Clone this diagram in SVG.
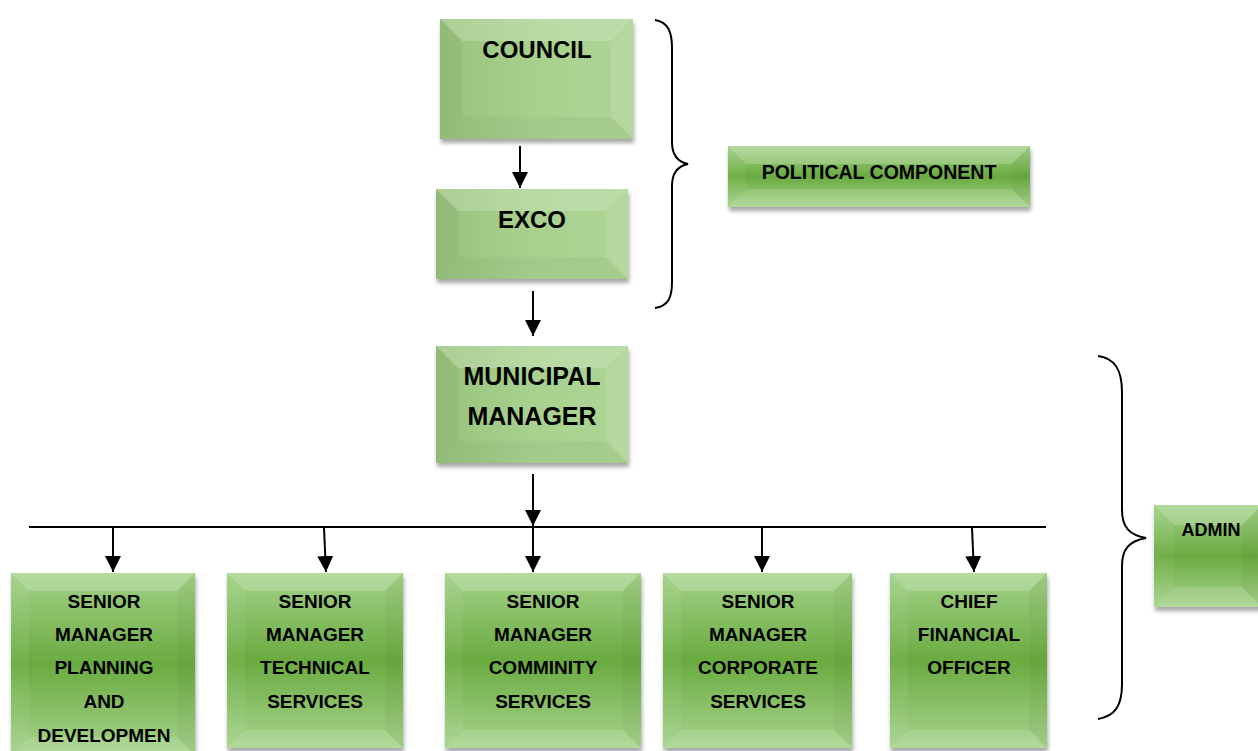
<svg xmlns="http://www.w3.org/2000/svg" width="1258" height="751" viewBox="0 0 1258 751">
<style>
.t{font-family:"Liberation Sans",Arial,sans-serif;font-weight:bold;fill:#000;text-anchor:middle}
.pale{fill:url(#gPale)}
.deep{fill:url(#gDeep)}
.bt{fill:#fff;fill-opacity:.2}
.bl{fill:#000;fill-opacity:.04}
.br{fill:#fff;fill-opacity:.1}
.bb{fill:#000;fill-opacity:.03}
.dt{fill:#fff;fill-opacity:.2}
.dl{fill:#fff;fill-opacity:.06}
.dr{fill:#000;fill-opacity:.03}
.db{fill:#fff;fill-opacity:.12}
.ln{stroke:#000;stroke-width:2;fill:none}
.brace{stroke:#000;stroke-width:2;fill:none}
</style>
<defs>
<linearGradient id="gPale" x1="0" y1="0" x2="1" y2="0">
<stop offset="0" stop-color="#98c27c"/>
<stop offset=".5" stop-color="#a9d18e"/>
<stop offset="1" stop-color="#acd493"/>
</linearGradient>
<linearGradient id="gDeep" x1="0" y1="0" x2="0" y2="1">
<stop offset="0" stop-color="#a3d288"/>
<stop offset=".5" stop-color="#6aab40"/>
<stop offset="1" stop-color="#a7d48d"/>
</linearGradient>
<filter id="sh" x="-10%" y="-10%" width="120%" height="130%">
<feDropShadow dx="1" dy="4" stdDeviation="2" flood-color="#000" flood-opacity=".35"/>
</filter>
<marker id="ah" markerUnits="userSpaceOnUse" markerWidth="16" markerHeight="16" viewBox="0 0 16 16" refX="16" refY="8" orient="auto">
<path d="M0,0 L16,8 L0,16 Z" fill="#000"/>
</marker>
</defs>
<rect width="1258" height="751" fill="#fff"/>

<g id="connectors">
<line class="ln" x1="520" y1="146" x2="520" y2="188" marker-end="url(#ah)"/>
<line class="ln" x1="533" y1="291" x2="533" y2="336" marker-end="url(#ah)"/>
<line class="ln" x1="533" y1="474" x2="533" y2="526" marker-end="url(#ah)"/>
<line class="ln" x1="29" y1="527" x2="1046" y2="527"/>
<line class="ln" x1="113" y1="528" x2="113" y2="572" marker-end="url(#ah)"/>
<line class="ln" x1="324" y1="528" x2="326" y2="572" marker-end="url(#ah)"/>
<line class="ln" x1="533" y1="528" x2="533" y2="572" marker-end="url(#ah)"/>
<line class="ln" x1="762" y1="528" x2="762" y2="572" marker-end="url(#ah)"/>
<line class="ln" x1="972" y1="528" x2="974" y2="572" marker-end="url(#ah)"/>
</g>

<g id="braces">
<path class="brace" d="M655,20 C668,22 672,32 672,48 L672,142 C672,156 678,162 688,164 C678,166 672,172 672,186 L672,282 C672,298 668,306 655,308"/>
<path class="brace" d="M1098,356 C1115,358 1122,370 1122,392 L1122,510 C1122,528 1130,535 1146,538 C1130,541 1122,548 1122,566 L1122,684 C1122,706 1115,716 1098,719"/>
</g>

<g id="council">
<rect class="pale" x="440" y="19" width="193" height="120" filter="url(#sh)"/>
<polygon class="bt" points="440,19 633,19 611,41 462,41"/>
<polygon class="bl" points="440,19 462,41 462,117 440,139"/>
<polygon class="br" points="633,19 633,139 611,117 611,41"/>
<polygon class="bb" points="440,139 633,139 611,117 462,117"/>
<text class="t" x="537" y="58" font-size="24">COUNCIL</text>
</g>

<g id="exco">
<rect class="pale" x="436" y="189" width="192" height="90" filter="url(#sh)"/>
<polygon class="bt" points="436,189 628,189 606,211 458,211"/>
<polygon class="bl" points="436,189 458,211 458,257 436,279"/>
<polygon class="br" points="628,189 628,279 606,257 606,211"/>
<polygon class="bb" points="436,279 628,279 606,257 458,257"/>
<text class="t" x="532" y="228" font-size="24">EXCO</text>
</g>

<g id="municipal-manager">
<rect class="pale" x="436" y="346" width="192" height="117" filter="url(#sh)"/>
<polygon class="bt" points="436,346 628,346 606,368 458,368"/>
<polygon class="bl" points="436,346 458,368 458,441 436,463"/>
<polygon class="br" points="628,346 628,463 606,441 606,368"/>
<polygon class="bb" points="436,463 628,463 606,441 458,441"/>
<text class="t" x="532" y="385" font-size="25">MUNICIPAL</text>
<text class="t" x="532" y="425" font-size="25">MANAGER</text>
</g>

<g id="political-component">
<rect class="deep" x="728" y="146" width="302" height="61" filter="url(#sh)"/>
<polygon class="dt" points="728,146 1030,146 1012,164 746,164"/>
<polygon class="dl" points="728,146 746,164 746,189 728,207"/>
<polygon class="dr" points="1030,146 1030,207 1012,189 1012,164"/>
<polygon class="db" points="728,207 1030,207 1012,189 746,189"/>
<text class="t" x="879" y="179" font-size="19.5">POLITICAL COMPONENT</text>
</g>

<g id="admin">
<rect class="deep" x="1154" y="505" width="108" height="102" filter="url(#sh)"/>
<polygon class="dt" points="1154,505 1262,505 1242,525 1174,525"/>
<polygon class="dl" points="1154,505 1174,525 1174,587 1154,607"/>
<polygon class="dr" points="1262,505 1262,607 1242,587 1242,525"/>
<polygon class="db" points="1154,607 1262,607 1242,587 1174,587"/>
<text class="t" x="1211" y="536" font-size="18">ADMIN</text>
</g>

<g id="sm-planning">
<rect class="deep" x="11" y="573" width="184" height="182" filter="url(#sh)"/>
<polygon class="dt" points="11,573 195,573 177,591 29,591"/>
<polygon class="dl" points="11,573 29,591 29,737 11,755"/>
<polygon class="dr" points="195,573 195,755 177,737 177,591"/>
<polygon class="db" points="11,755 195,755 177,737 29,737"/>
<text class="t" x="104" y="608" font-size="19">SENIOR</text>
<text class="t" x="104" y="641" font-size="19">MANAGER</text>
<text class="t" x="104" y="674" font-size="19">PLANNING</text>
<text class="t" x="104" y="708" font-size="19">AND</text>
<text class="t" x="104" y="742" font-size="19">DEVELOPMEN</text>
</g>

<g id="sm-technical">
<rect class="deep" x="227" y="573" width="176" height="175" filter="url(#sh)"/>
<polygon class="dt" points="227,573 403,573 385,591 245,591"/>
<polygon class="dl" points="227,573 245,591 245,730 227,748"/>
<polygon class="dr" points="403,573 403,748 385,730 385,591"/>
<polygon class="db" points="227,748 403,748 385,730 245,730"/>
<text class="t" x="315" y="608" font-size="19">SENIOR</text>
<text class="t" x="315" y="641" font-size="19">MANAGER</text>
<text class="t" x="315" y="674" font-size="19">TECHNICAL</text>
<text class="t" x="315" y="708" font-size="19">SERVICES</text>
</g>

<g id="sm-community">
<rect class="deep" x="445" y="573" width="196" height="175" filter="url(#sh)"/>
<polygon class="dt" points="445,573 641,573 623,591 463,591"/>
<polygon class="dl" points="445,573 463,591 463,730 445,748"/>
<polygon class="dr" points="641,573 641,748 623,730 623,591"/>
<polygon class="db" points="445,748 641,748 623,730 463,730"/>
<text class="t" x="543" y="608" font-size="19">SENIOR</text>
<text class="t" x="543" y="641" font-size="19">MANAGER</text>
<text class="t" x="543" y="674" font-size="19">COMMINITY</text>
<text class="t" x="543" y="708" font-size="19">SERVICES</text>
</g>

<g id="sm-corporate">
<rect class="deep" x="663" y="573" width="189" height="175" filter="url(#sh)"/>
<polygon class="dt" points="663,573 852,573 834,591 681,591"/>
<polygon class="dl" points="663,573 681,591 681,730 663,748"/>
<polygon class="dr" points="852,573 852,748 834,730 834,591"/>
<polygon class="db" points="663,748 852,748 834,730 681,730"/>
<text class="t" x="758" y="608" font-size="19">SENIOR</text>
<text class="t" x="758" y="641" font-size="19">MANAGER</text>
<text class="t" x="758" y="674" font-size="19">CORPORATE</text>
<text class="t" x="758" y="708" font-size="19">SERVICES</text>
</g>

<g id="cfo">
<rect class="deep" x="890" y="573" width="157" height="175" filter="url(#sh)"/>
<polygon class="dt" points="890,573 1047,573 1029,591 908,591"/>
<polygon class="dl" points="890,573 908,591 908,730 890,748"/>
<polygon class="dr" points="1047,573 1047,748 1029,730 1029,591"/>
<polygon class="db" points="890,748 1047,748 1029,730 908,730"/>
<text class="t" x="969" y="608" font-size="19">CHIEF</text>
<text class="t" x="969" y="641" font-size="19">FINANCIAL</text>
<text class="t" x="969" y="674" font-size="19">OFFICER</text>
</g>
</svg>
